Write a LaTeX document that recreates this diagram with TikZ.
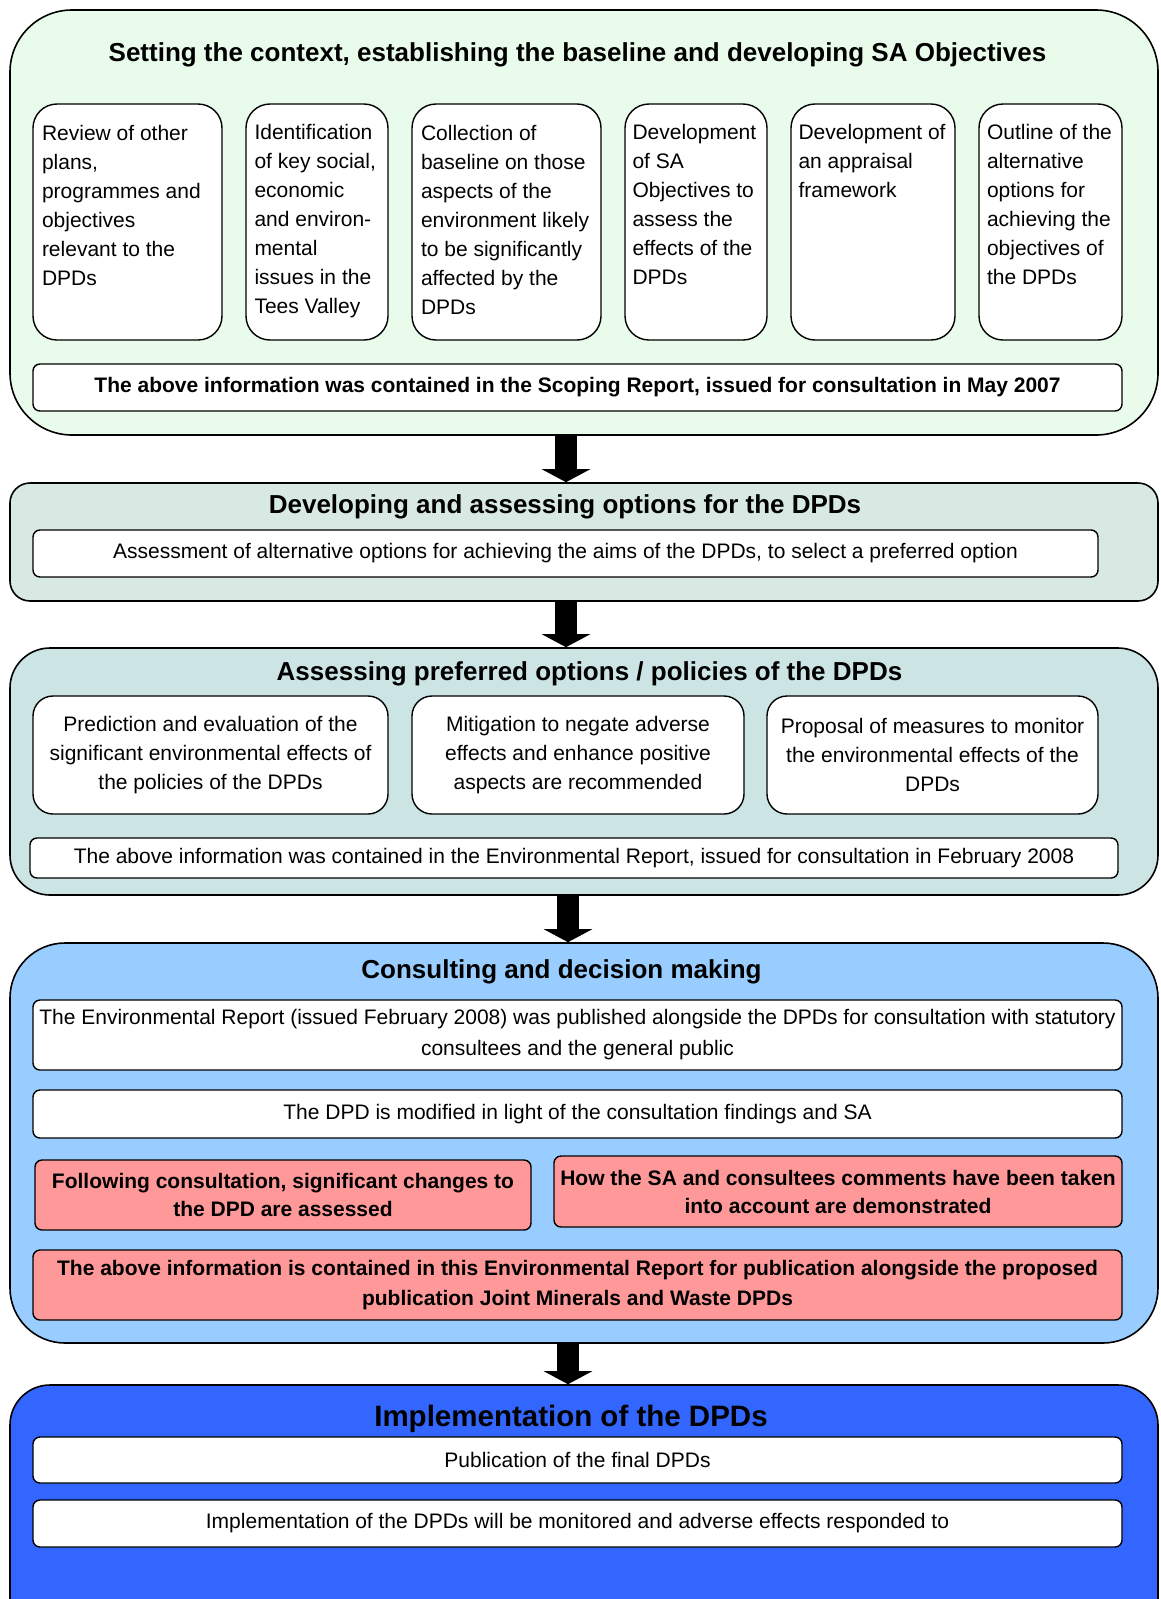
\documentclass[tikz,border=0pt]{standalone}
\usepackage{fontspec}
\setmainfont{Liberation Sans}
\usetikzlibrary{arrows.meta}
\definecolor{pgreen}{HTML}{E9FBEA}
\definecolor{pgrey}{HTML}{D8E8E2}
\definecolor{pteal}{HTML}{CCE4E4}
\definecolor{plblue}{HTML}{99CCFF}
\definecolor{pblue}{HTML}{3366FF}
\definecolor{pred}{HTML}{FF9999}
\newcommand\placebox[7]{%
  \node[#1, minimum width={(#5-#3)*1pt}, minimum height={(#6-#4)*1pt}] (#2) at ({(#3+#5)/2},{(#4+#6)/2}) {#7};}
\begin{document}
\begin{tikzpicture}[x=1pt,y=-1pt,
  panel/.style={draw=black, line width=1.6pt, inner sep=0pt},
  wbox/.style={draw=black, fill=white, line width=1.4pt, inner sep=0pt, align=center},
  colbox/.style={wbox, rounded corners=24pt},
  barbox/.style={wbox, rounded corners=7pt},
  redbox/.style={barbox, fill=pred},
  body/.style={font=\fontsize{21}{29}\selectfont},
  bodyb/.style={font=\fontsize{21}{28}\selectfont\bfseries},
  ttl/.style={font=\fontsize{26}{30}\selectfont\bfseries, inner sep=0pt},
  coltext/.style={body, anchor=north west, align=left, inner sep=0pt},
  bigarrow/.style={line width=22pt, -{Triangle[length=13pt 0 0, width=48pt 0 0]}}
]
\useasboundingbox (0,0) rectangle (1161,1599);
\clip (0,0) rectangle (1161,1599);

% ---------- Panel 1
\placebox{panel, fill=pgreen, rounded corners=62pt}{p1}{10}{10}{1158}{435}{}
\node[ttl] (t1) at (577.5,55) {Setting the context, establishing the baseline and developing SA Objectives};
\placebox{colbox}{b1}{33}{104}{222}{340}{}
\placebox{colbox}{b2}{246}{104}{388}{340}{}
\placebox{colbox}{b3}{412}{104}{601}{340}{}
\placebox{colbox}{b4}{625}{104}{767}{340}{}
\placebox{colbox}{b5}{791}{104}{955}{340}{}
\placebox{colbox}{b6}{979}{104}{1122}{340}{}
\node[coltext] (b1t) at ([shift={(9.5,21.5)}]b1.north west) {Review of other\\plans,\\programmes and\\objectives\\relevant to the\\DPDs};
\node[coltext] (b2t) at ([shift={(9,20.5)}]b2.north west) {Identification\\of key social,\\economic\\and environ-\\mental\\issues in the\\Tees Valley};
\node[coltext] (b3t) at ([shift={(9.5,21.5)}]b3.north west) {Collection of\\baseline on those\\aspects of the\\environment likely\\to be significantly\\affected by the\\DPDs};
\node[coltext] (b4t) at ([shift={(8,20.5)}]b4.north west) {Development\\of SA\\Objectives to\\assess the\\effects of the\\DPDs};
\node[coltext] (b5t) at ([shift={(8,20.5)}]b5.north west) {Development of\\an appraisal\\framework};
\node[coltext] (b6t) at ([shift={(8.5,20.5)}]b6.north west) {Outline of the\\alternative\\options for\\achieving the\\objectives of\\the DPDs};
\placebox{barbox, font=\fontsize{21}{26}\selectfont\bfseries}{s1}{33}{364}{1122}{411}{The above information was contained in the Scoping Report, issued for consultation in May 2007}

% ---------- Panel 2
\placebox{panel, fill=pgrey, rounded corners=20pt}{p2}{10}{483}{1158}{601}{}
\node[ttl] (t2) at (565,507) {Developing and assessing options for the DPDs};
\placebox{barbox, body}{s2}{33}{530}{1098}{577}{Assessment of alternative options for achieving the aims of the DPDs, to select a preferred option}

% ---------- Panel 3
\placebox{panel, fill=pteal, rounded corners=40pt}{p3}{10}{648}{1158}{895}{}
\node[ttl] (t3) at (589.5,674) {Assessing preferred options / policies of the DPDs};
\placebox{colbox, rounded corners=20pt, body}{c1}{33}{696}{388}{814}{Prediction and evaluation of the\\significant environmental effects of\\the policies of the DPDs}
\placebox{colbox, rounded corners=20pt, body}{c2}{412}{696}{744}{814}{Mitigation to negate adverse\\effects and enhance positive\\aspects are recommended}
\placebox{colbox, rounded corners=20pt, body}{c3}{767}{696}{1098}{814}{Proposal of measures to monitor\\the environmental effects of the\\DPDs}
\placebox{barbox, body}{s3}{30}{838}{1118}{878}{The above information was contained in the Environmental Report, issued for consultation in February 2008}

% ---------- Panel 4
\placebox{panel, fill=plblue, rounded corners=55pt}{p4}{10}{943}{1158}{1343}{}
\node[ttl] (t4) at (561.5,972) {Consulting and decision making};
\placebox{barbox, font=\fontsize{21}{31}\selectfont}{d1}{33}{1000}{1122}{1070}{The Environmental Report (issued February 2008) was published alongside the DPDs for consultation with statutory\\consultees and the general public}
\placebox{barbox, body}{d2}{33}{1090}{1122}{1138}{The DPD is modified in light of the consultation findings and SA}
\placebox{redbox, bodyb}{r1}{35}{1160}{531}{1230}{Following consultation, significant changes to\\the DPD are assessed}
\placebox{redbox, bodyb}{r2}{554}{1156}{1122}{1227}{How the SA and consultees comments have been taken\\into account are demonstrated}
\placebox{redbox, font=\fontsize{21}{30}\selectfont\bfseries}{r3}{33}{1250}{1122}{1320}{The above information is contained in this Environmental Report for publication alongside the proposed\\publication Joint Minerals and Waste DPDs}

% ---------- Panel 5
\placebox{panel, fill=pblue, rounded corners=40pt}{p5}{10}{1385}{1158}{1640}{}
\node[ttl, font=\fontsize{29.5}{32}\selectfont\bfseries] (t5) at (571,1419) {Implementation of the DPDs};
\placebox{barbox, body}{e1}{33}{1437}{1122}{1483}{Publication of the final DPDs}
\placebox{barbox, body}{e2}{33}{1500}{1122}{1547}{Implementation of the DPDs will be monitored and adverse effects responded to}

% ---------- Arrows
\coordinate (ax1) at (566,0);
\coordinate (ax3) at (568,0);
\draw[bigarrow] (p1.south -| ax1) -- (p2.north -| ax1);
\draw[bigarrow] (p2.south -| ax1) -- (p3.north -| ax1);
\draw[bigarrow] (p3.south -| ax3) -- (p4.north -| ax3);
\draw[bigarrow] (p4.south -| ax3) -- (p5.north -| ax3);
\end{tikzpicture}
\end{document}
